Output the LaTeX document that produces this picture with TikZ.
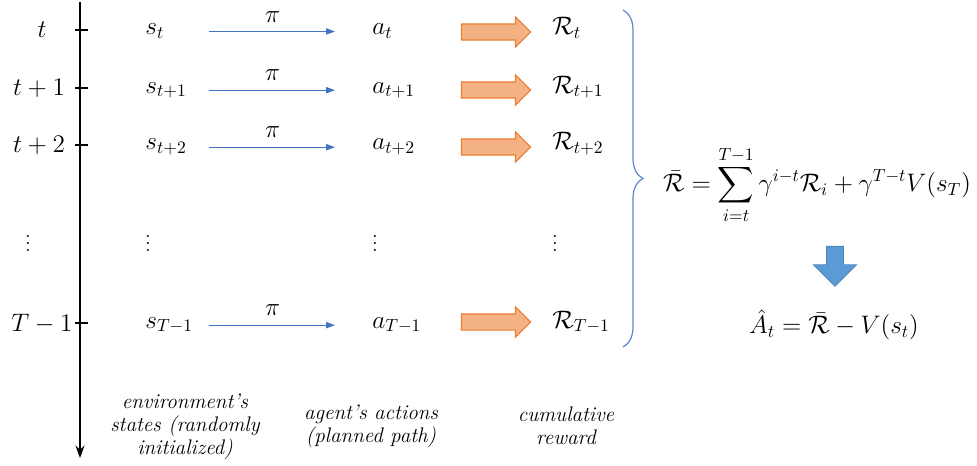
\documentclass[tikz,border=0pt]{standalone}
\usepackage{amsmath,amssymb}
\usetikzlibrary{positioning,arrows.meta,shapes.arrows,decorations.pathreplacing}
\definecolor{cPolicy}{HTML}{4472C4}
\definecolor{cReward}{HTML}{ED7D31}
\definecolor{cRewardFill}{HTML}{F4B183}
\definecolor{cAdv}{HTML}{5B9BD5}
\tikzset{
  tim/.style={font=\Large, inner sep=1pt, anchor=base},
  scol/.style={font=\Large, inner sep=0pt, anchor=base west, text width=1.1cm, align=left},
  col/.style={font=\Large, inner sep=0pt, anchor=base west},
  vdot/.style={font=\large, inner sep=0pt},
  captxt/.style={font=\fontsize{12}{13.2}\selectfont\itshape, align=center, inner sep=1pt},
  taxis/.style={-{Stealth[length=7pt,width=5pt]}, line width=1.3pt},
  ttick/.style={line width=0.6pt},
  pol/.style={-{Triangle[length=5pt,width=3.5pt]}, cPolicy, line width=0.6pt,
              shorten <=0.16cm, shorten >=0.74cm},
  pil/.style={above=4pt, font=\Large, text=black, inner sep=1pt, pos=0.42},
  rew/.style={single arrow, draw=cReward, fill=cRewardFill, line width=0.6pt,
              inner xsep=0pt, inner ysep=0.15cm, minimum height=1.38cm,
              single arrow head extend=0.14cm},
  advarr/.style={single arrow, draw=cAdv!85!black, fill=cAdv, line width=0.5pt,
              inner xsep=0pt, inner ysep=0.16cm, minimum height=0.8cm,
              single arrow head extend=0.26cm, rotate=-90},
  brc/.style={decorate, decoration={brace, amplitude=0.4cm}, cPolicy!85, line width=0.7pt},
}

\begin{document}
\begin{tikzpicture}[x=0.02cm, y=-0.02cm]
    \useasboundingbox (0,0) rectangle (977,466);

    % --- time axis ---
    \coordinate (ttop) at (80,2);
    \coordinate (tbot) at (80,458);
    \draw[taxis] (ttop) -- (tbot);
    \foreach \y in {30,88,145,323} \draw[ttick] (75,\y) -- (88,\y);
    \node[tim] (t0) at (42,38)  {$t$};
    \node[tim] (t1) at (39,96)  {$t+1$};
    \node[tim] (t2) at (39,153) {$t+2$};
    \node[vdot] (td) at (28,238) {$\vdots$};
    \node[tim] (t3) at (42,331) {$T-1$};

    % --- states ---
    \node[scol] (s0) at (145,35)  {$s_t$};
    \node[scol] (s1) at (145,93)  {$s_{t+1}$};
    \node[scol] (s2) at (145,150) {$s_{t+2}$};
    \node[vdot] (sd) at (148,238) {$\vdots$};
    \node[scol] (s3) at (145,328) {$s_{T-1}$};

    % --- actions ---
    \node[col] (a0) at (372,35)  {$a_t$};
    \node[col] (a1) at (372,93)  {$a_{t+1}$};
    \node[col] (a2) at (372,150) {$a_{t+2}$};
    \node[vdot] (ad) at (375,238) {$\vdots$};
    \node[col] (a3) at (372,328) {$a_{T-1}$};
    \draw[pol] (s0.east) -- node[pil] {$\pi$} (a0.west);
    \draw[pol] (s1.east) -- node[pil] {$\pi$} (a1.west);
    \draw[pol] (s2.east) -- node[pil] {$\pi$} (a2.west);
    \draw[pol] (s3.east) -- node[pil] {$\pi$} (a3.west);

    % --- rewards ---
    \node[rew] (g0) at (492,32)  {};
    \node[rew] (g1) at (492,90)  {};
    \node[rew] (g2) at (492,147) {};
    \node[rew] (g3) at (492,322) {};
    \node[col] (r0) at (552,35)  {$\mathcal{R}_t$};
    \node[col] (r1) at (552,93)  {$\mathcal{R}_{t+1}$};
    \node[col] (r2) at (552,150) {$\mathcal{R}_{t+2}$};
    \node[vdot] (rd) at (555,238) {$\vdots$};
    \node[col] (r3) at (552,328) {$\mathcal{R}_{T-1}$};

    % --- return and advantage ---
    \coordinate (btop) at (623,10);
    \coordinate (bbot) at (623,347);
    \draw[brc] (btop) -- (bbot);
    \node[font=\Large, inner sep=1pt] (ret) at (817,185)
      {$\displaystyle \bar{\mathcal{R}} = \sum_{i=t}^{T-1}\gamma^{i-t}\mathcal{R}_i+\gamma^{T-t}V(s_T)$};
    \node[advarr] (dn) at (835,262) {};
    \node[font=\Large, inner sep=1pt] (adv) at (834,325)
      {$\hat{A}_t = \bar{\mathcal{R}} - V(s_t)$};

    % --- captions ---
    \node[captxt] (cs) at (185,427) {environment's\\states (randomly\\initialized)};
    \node[captxt] (ca) at (371,426) {agent's actions\\(planned path)};
    \node[captxt] (cr) at (566,426) {cumulative\\reward};
\end{tikzpicture}
\end{document}
